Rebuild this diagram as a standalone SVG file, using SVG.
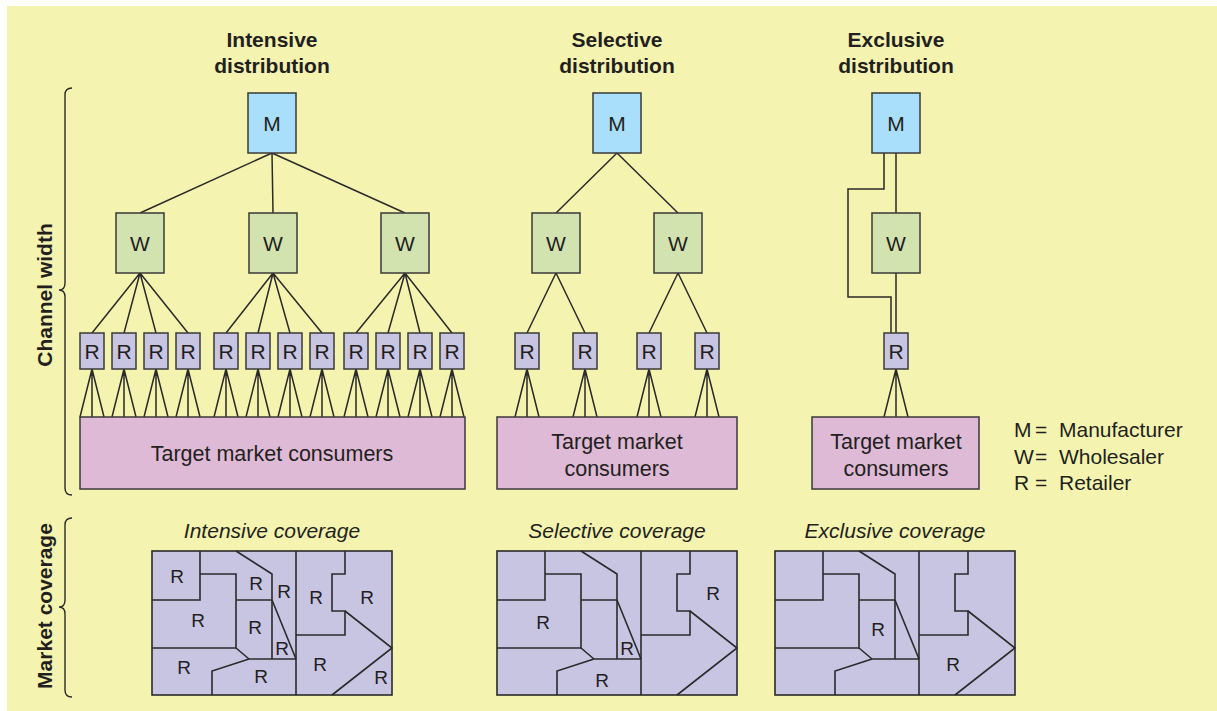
<svg xmlns="http://www.w3.org/2000/svg" xmlns:xlink="http://www.w3.org/1999/xlink" width="1217" height="711" viewBox="0 0 1217 711">
<style>
text{font-family:"Liberation Sans",Arial,sans-serif;fill:#231f20}
.t{font-size:21px;font-weight:bold;text-anchor:middle}
.c{font-size:21px;font-style:italic;text-anchor:middle}
.b{font-size:21px;text-anchor:middle}
.p{font-size:21.5px;text-anchor:middle}
.l{font-size:21px}
.mr{font-size:19px;text-anchor:middle}
.m{fill:#A9DFFA;stroke:#3a3a3a;stroke-width:1.5}
.w{fill:#D3E3B0;stroke:#3a3a3a;stroke-width:1.5}
.r{fill:#C8C5E2;stroke:#3a3a3a;stroke-width:1.5}
.k{fill:#DEBAD6;stroke:#3a3a3a;stroke-width:1.5}
.ln{fill:none;stroke:#2a2a2a;stroke-width:1.5}
.map{fill:#C8C5E2;stroke:#2a2a2a;stroke-width:1.6}
.ml{fill:none;stroke:#2a2a2a;stroke-width:1.6}
.br{fill:none;stroke:#2a2a2a;stroke-width:1.4}
</style>
<defs>
<g id="mapLines" class="ml">
<path d="M48,0 V49 H0"/>
<path d="M48,23 H84 V97 L97,108"/>
<path d="M0,97 H84"/>
<path d="M84,0 L120,23 V108"/>
<path d="M84,49 H120"/>
<path d="M120,49 L144,108"/>
<path d="M97,108 H144"/>
<path d="M97,108 L60,120 V144"/>
<path d="M144,0 V144"/>
<path d="M193,0 V23 H180 V60 H193 V84 H144"/>
<path d="M193,60 L240,97 L180,144"/>
</g>
</defs>
<rect x="0" y="0" width="1217" height="711" fill="#ffffff"/>
<rect x="7" y="6" width="1210" height="705" fill="#F4F3AF"/>

<g id="titles">
<text class="t" x="272" y="47">Intensive</text>
<text class="t" x="272" y="73">distribution</text>
<text class="t" x="617" y="47">Selective</text>
<text class="t" x="617" y="73">distribution</text>
<text class="t" x="896" y="47">Exclusive</text>
<text class="t" x="896" y="73">distribution</text>
</g>

<g id="axis-labels">
<path class="br" d="M72,88 Q65,88 65,95 V283 Q65,290 59,290 Q65,290 65,297 V488 Q65,495 72,495"/>
<path class="br" d="M72,518 Q65,518 65,525 V600 Q65,607 59,607 Q65,607 65,614 V690 Q65,697 72,697"/>
<text class="t" transform="translate(52,295) rotate(-90)">Channel width</text>
<text class="t" transform="translate(52,606) rotate(-90)">Market coverage</text>
</g>

<g id="connectors" class="ln">
<path d="M272,153 L140,213 M272,153 L273,213 M272,153 L405,213"/>
<path d="M140,273 L92,333 M140,273 L124,333 M140,273 L156,333 M140,273 L188,333"/>
<path d="M273,273 L226,333 M273,273 L258,333 M273,273 L290,333 M273,273 L322,333"/>
<path d="M405,273 L356,333 M405,273 L388,333 M405,273 L420,333 M405,273 L452,333"/>
<path d="M92,369 L80,417 M92,369 V417 M92,369 L104,417
M124,369 L112,417 M124,369 V417 M124,369 L136,417
M156,369 L144,417 M156,369 V417 M156,369 L168,417
M188,369 L176,417 M188,369 V417 M188,369 L200,417
M226,369 L214,417 M226,369 V417 M226,369 L238,417
M258,369 L246,417 M258,369 V417 M258,369 L270,417
M290,369 L278,417 M290,369 V417 M290,369 L302,417
M322,369 L310,417 M322,369 V417 M322,369 L334,417
M356,369 L344,417 M356,369 V417 M356,369 L368,417
M388,369 L376,417 M388,369 V417 M388,369 L400,417
M420,369 L408,417 M420,369 V417 M420,369 L432,417
M452,369 L440,417 M452,369 V417 M452,369 L464,417"/>
<path d="M617,153 L556,213 M617,153 L678,213"/>
<path d="M556,273 L527,333 M556,273 L585,333 M678,273 L649,333 M678,273 L707,333"/>
<path d="M527,369 L515,417 M527,369 V417 M527,369 L539,417
M585,369 L573,417 M585,369 V417 M585,369 L597,417
M649,369 L637,417 M649,369 V417 M649,369 L661,417
M707,369 L695,417 M707,369 V417 M707,369 L719,417"/>
<path d="M896,153 V213 M896,273 V333 M884,153 V189 H848 V297 H891 V333"/>
<path d="M896,369 L884,417 M896,369 V417 M896,369 L908,417"/>
</g>

<g id="intensive-M"><rect class="m" x="248" y="93" width="48" height="60"/><text class="b" x="272" y="131">M</text></g>
<g id="intensive-W1"><rect class="w" x="116" y="213" width="48" height="60"/><text class="b" x="140" y="251">W</text></g>
<g id="intensive-W2"><rect class="w" x="249" y="213" width="48" height="60"/><text class="b" x="273" y="251">W</text></g>
<g id="intensive-W3"><rect class="w" x="381" y="213" width="48" height="60"/><text class="b" x="405" y="251">W</text></g>
<g id="intensive-R1"><rect class="r" x="80" y="333" width="24" height="36"/><text class="b" x="92" y="359">R</text></g>
<g id="intensive-R2"><rect class="r" x="112" y="333" width="24" height="36"/><text class="b" x="124" y="359">R</text></g>
<g id="intensive-R3"><rect class="r" x="144" y="333" width="24" height="36"/><text class="b" x="156" y="359">R</text></g>
<g id="intensive-R4"><rect class="r" x="176" y="333" width="24" height="36"/><text class="b" x="188" y="359">R</text></g>
<g id="intensive-R5"><rect class="r" x="214" y="333" width="24" height="36"/><text class="b" x="226" y="359">R</text></g>
<g id="intensive-R6"><rect class="r" x="246" y="333" width="24" height="36"/><text class="b" x="258" y="359">R</text></g>
<g id="intensive-R7"><rect class="r" x="278" y="333" width="24" height="36"/><text class="b" x="290" y="359">R</text></g>
<g id="intensive-R8"><rect class="r" x="310" y="333" width="24" height="36"/><text class="b" x="322" y="359">R</text></g>
<g id="intensive-R9"><rect class="r" x="344" y="333" width="24" height="36"/><text class="b" x="356" y="359">R</text></g>
<g id="intensive-R10"><rect class="r" x="376" y="333" width="24" height="36"/><text class="b" x="388" y="359">R</text></g>
<g id="intensive-R11"><rect class="r" x="408" y="333" width="24" height="36"/><text class="b" x="420" y="359">R</text></g>
<g id="intensive-R12"><rect class="r" x="440" y="333" width="24" height="36"/><text class="b" x="452" y="359">R</text></g>
<g id="intensive-consumers"><rect class="k" x="80" y="417" width="385" height="72"/><text class="p" x="272" y="461">Target market consumers</text></g>

<g id="selective-M"><rect class="m" x="593" y="93" width="48" height="60"/><text class="b" x="617" y="131">M</text></g>
<g id="selective-W1"><rect class="w" x="532" y="213" width="48" height="60"/><text class="b" x="556" y="251">W</text></g>
<g id="selective-W2"><rect class="w" x="654" y="213" width="48" height="60"/><text class="b" x="678" y="251">W</text></g>
<g id="selective-R1"><rect class="r" x="515" y="333" width="24" height="36"/><text class="b" x="527" y="359">R</text></g>
<g id="selective-R2"><rect class="r" x="573" y="333" width="24" height="36"/><text class="b" x="585" y="359">R</text></g>
<g id="selective-R3"><rect class="r" x="637" y="333" width="24" height="36"/><text class="b" x="649" y="359">R</text></g>
<g id="selective-R4"><rect class="r" x="695" y="333" width="24" height="36"/><text class="b" x="707" y="359">R</text></g>
<g id="selective-consumers"><rect class="k" x="497" y="417" width="240" height="72"/><text class="p" x="617" y="449">Target market</text><text class="p" x="617" y="476">consumers</text></g>

<g id="exclusive-M"><rect class="m" x="872" y="93" width="48" height="60"/><text class="b" x="896" y="131">M</text></g>
<g id="exclusive-W"><rect class="w" x="872" y="213" width="48" height="60"/><text class="b" x="896" y="251">W</text></g>
<g id="exclusive-R"><rect class="r" x="884" y="333" width="24" height="36"/><text class="b" x="896" y="359">R</text></g>
<g id="exclusive-consumers"><rect class="k" x="812" y="417" width="167" height="72"/><text class="p" x="896" y="449">Target market</text><text class="p" x="896" y="476">consumers</text></g>

<g id="legend">
<text class="l" x="1014" y="437">M</text><text class="l" x="1035" y="437">=</text><text class="l" x="1059" y="437">Manufacturer</text>
<text class="l" x="1014" y="464">W</text><text class="l" x="1035" y="464">=</text><text class="l" x="1059" y="464">Wholesaler</text>
<text class="l" x="1014" y="490">R</text><text class="l" x="1035" y="490">=</text><text class="l" x="1059" y="490">Retailer</text>
</g>

<g id="intensive-coverage">
<text class="c" x="272" y="538">Intensive coverage</text>
<rect class="map" x="152" y="551" width="240" height="144"/>
<use xlink:href="#mapLines" href="#mapLines" transform="translate(152,551)"/>
<text class="mr" x="177" y="583">R</text>
<text class="mr" x="198" y="627">R</text>
<text class="mr" x="256" y="590">R</text>
<text class="mr" x="284" y="598">R</text>
<text class="mr" x="316" y="604">R</text>
<text class="mr" x="367" y="604">R</text>
<text class="mr" x="255" y="634">R</text>
<text class="mr" x="282" y="655">R</text>
<text class="mr" x="184" y="674">R</text>
<text class="mr" x="261" y="683">R</text>
<text class="mr" x="320" y="671">R</text>
<text class="mr" x="381" y="684">R</text>
</g>

<g id="selective-coverage">
<text class="c" x="617" y="538">Selective coverage</text>
<rect class="map" x="497" y="551" width="240" height="144"/>
<use xlink:href="#mapLines" href="#mapLines" transform="translate(497,551)"/>
<text class="mr" x="543" y="629">R</text>
<text class="mr" x="713" y="600">R</text>
<text class="mr" x="627" y="655">R</text>
<text class="mr" x="602" y="687">R</text>
</g>

<g id="exclusive-coverage">
<text class="c" x="895" y="538">Exclusive coverage</text>
<rect class="map" x="775" y="551" width="240" height="144"/>
<use xlink:href="#mapLines" href="#mapLines" transform="translate(775,551)"/>
<text class="mr" x="878" y="636">R</text>
<text class="mr" x="953" y="671">R</text>
</g>
</svg>
